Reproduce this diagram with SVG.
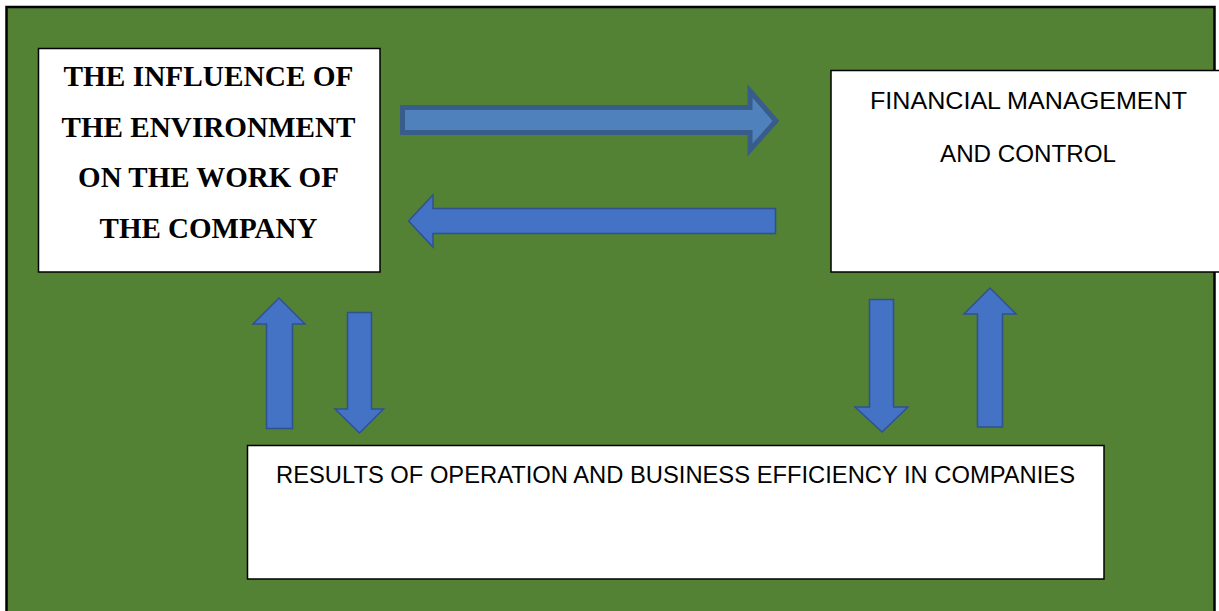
<svg xmlns="http://www.w3.org/2000/svg" width="1219" height="611" viewBox="0 0 1219 611">
<style>
.box{fill:#ffffff;stroke:#000000;stroke-width:1.5}
.serif{font-family:"Liberation Serif","Times New Roman",serif;font-weight:bold;font-size:29px;fill:#000;text-anchor:middle}
.sans{font-family:"Liberation Sans",Arial,sans-serif;font-size:24.5px;fill:#000;text-anchor:middle}
.arrA{fill:#4F81BD;stroke:#385D8A;stroke-width:5;stroke-linejoin:miter}
.arrB{fill:#4472C4;stroke:#2F528F;stroke-width:1.5;stroke-linejoin:miter}
</style>
<rect x="0" y="0" width="1219" height="611" fill="#ffffff"/>
<rect id="background" x="6.5" y="7" width="1208" height="610" fill="#548235" stroke="#000000" stroke-width="2.5"/>
<g id="connectors">
<path class="arrA" d="M402.5,107.5 L750,107.5 L750,91 L776,121 L750,150 L750,132.5 L402.5,132.5 Z"/>
<path class="arrB" d="M775.5,208.5 L433,208.5 L433,195 L408.5,221 L433,247 L433,233.5 L775.5,233.5 Z"/>
<path class="arrB" d="M266.5,428.5 L266.5,324 L253,324 L279,298 L305,324 L292.5,324 L292.5,428.5 Z"/>
<path class="arrB" d="M347.5,312.5 L371.5,312.5 L371.5,409 L383.5,409 L359.5,433 L335,409 L347.5,409 Z"/>
<path class="arrB" d="M869.5,299.5 L893.5,299.5 L893.5,407 L908,407 L882,432 L855,407 L869.5,407 Z"/>
<path class="arrB" d="M977.5,427 L977.5,314 L964,314 L990,288 L1016,314 L1002.5,314 L1002.5,427 Z"/>
</g>
<g id="node-environment">
<rect class="box" x="38.5" y="48.5" width="341.5" height="223.5"/>
<text class="serif" x="208.5" y="86" textLength="290" lengthAdjust="spacingAndGlyphs">THE INFLUENCE OF</text>
<text class="serif" x="208.5" y="137" textLength="294" lengthAdjust="spacingAndGlyphs">THE ENVIRONMENT</text>
<text class="serif" x="208.5" y="187">ON THE WORK OF</text>
<text class="serif" x="208.5" y="238">THE COMPANY</text>
</g>
<g id="node-financial">
<rect class="box" x="831" y="70.5" width="400" height="201.5"/>
<text class="sans" x="1028.5" y="109" textLength="317" lengthAdjust="spacingAndGlyphs">FINANCIAL MANAGEMENT</text>
<text class="sans" x="1028" y="162" textLength="176" lengthAdjust="spacingAndGlyphs">AND CONTROL</text>
</g>
<g id="node-results">
<rect class="box" x="247.5" y="445.5" width="856.5" height="133.5"/>
<text class="sans" x="675.5" y="483" textLength="799" lengthAdjust="spacingAndGlyphs">RESULTS OF OPERATION AND BUSINESS EFFICIENCY IN COMPANIES</text>
</g>
</svg>
